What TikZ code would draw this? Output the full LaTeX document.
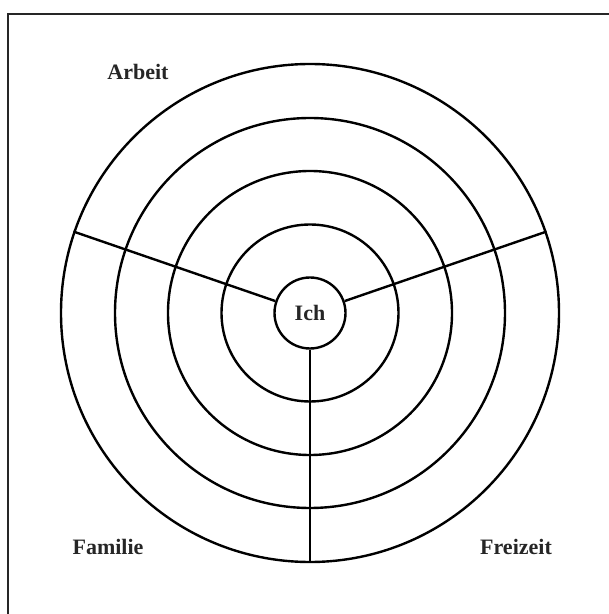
\documentclass[tikz,border=0pt]{standalone}
\usepackage{fontspec}
\setmainfont{Liberation Serif}
\begin{document}
\begin{tikzpicture}[x=1pt,y=1pt,
  ring/.style={draw=black, line width=2.4pt, circle, inner sep=0pt},
  spoke/.style={draw=black, line width=2.4pt},
  lbl/.style={font=\fontsize{22}{24}\selectfont\bfseries, text=black!85, inner sep=0pt}]
\useasboundingbox (0,0) rectangle (609,614);
\fill[white] (0,0) rectangle (609,614);
\draw[line width=1.8pt, black!85] (8,0) -- (8,600) -- (609,600);
\coordinate (c) at (310,301);
\node[ring, minimum size=498pt] (r4) at (c) {};
\node[ring, minimum size=390pt] (r3) at (c) {};
\node[ring, minimum size=284pt] (r2) at (c) {};
\node[ring, minimum size=177pt] (r1) at (c) {};
\node[ring, minimum size=71pt, lbl, fill=white] (ich) at (c) {Ich};
\draw[spoke] (ich.19) -- (r4.19);
\draw[spoke] (ich.161) -- (r4.161);
\draw[spoke] (ich.270) -- (r4.270);
\node[lbl] (arbeit) at (138,542) {Arbeit};
\node[lbl] (familie) at (108,67) {Familie};
\node[lbl] (freizeit) at (516,67) {Freizeit};
\end{tikzpicture}
\end{document}
